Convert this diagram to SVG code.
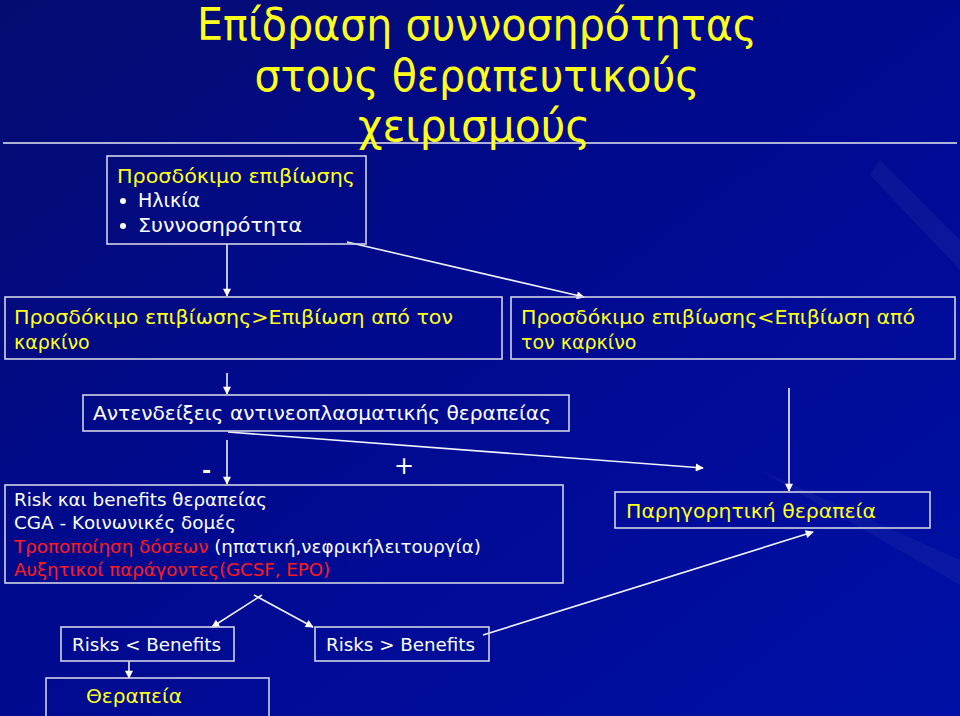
<svg xmlns="http://www.w3.org/2000/svg" width="960" height="716" viewBox="0 0 960 716">
<defs>
<linearGradient id="bg" x1="0" y1="0" x2="1" y2="1">
<stop offset="0" stop-color="#050c70"/>
<stop offset="0.45" stop-color="#000a8e"/>
<stop offset="1" stop-color="#0010a6"/>
</linearGradient>
<marker id="ah" viewBox="0 0 10 10" refX="9" refY="5" markerWidth="9" markerHeight="8" markerUnits="userSpaceOnUse" orient="auto">
<path d="M0,0 L10,5 L0,10 z" fill="#ffffff"/>
</marker>
<style>
.box{fill:none;stroke:#d2d2e6;stroke-width:1.6}
.con{stroke:#f0f0ff;stroke-width:1.6;fill:none;marker-end:url(#ah)}
.t{font-family:"DejaVu Sans","Liberation Sans",sans-serif}
.y{fill:#ffff1a}
.w{fill:#ffffff}
.r{fill:#ff1a1a}
.ttl{font-family:"DejaVu Sans","Liberation Sans",sans-serif;font-stretch:condensed;font-size:44px;fill:#ffff1a;text-anchor:middle}
</style>
</defs>
<rect width="960" height="716" fill="url(#bg)"/>
<g opacity="0.04" fill="#ffffff">
<polygon points="760,470 960,560 960,585 780,482"/>
<polygon points="880,160 960,240 960,270 870,175"/>
</g>
<line x1="3" y1="143" x2="957" y2="143" stroke="#e8e8f4" stroke-width="1.6"/>

<g id="title">
<text class="ttl" x="477" y="40" textLength="560" lengthAdjust="spacingAndGlyphs">Επίδραση συννοσηρότητας</text>
<text class="ttl" x="477" y="91" textLength="445" lengthAdjust="spacingAndGlyphs">στους θεραπευτικούς</text>
<text class="ttl" x="474" y="141" textLength="232" lengthAdjust="spacingAndGlyphs">χειρισμούς</text>
</g>

<g id="connectors">
<line class="con" x1="227" y1="244" x2="227" y2="296"/>
<line class="con" x1="347" y1="242" x2="584" y2="297"/>
<line class="con" x1="227" y1="373" x2="227" y2="394"/>
<line class="con" x1="227" y1="440" x2="227" y2="484"/>
<line class="con" x1="228" y1="432" x2="703" y2="468"/>
<line class="con" x1="789" y1="388" x2="789" y2="491"/>
<line class="con" x1="262" y1="595" x2="212" y2="627"/>
<line class="con" x1="254" y1="595" x2="313" y2="627"/>
<line class="con" x1="483" y1="635" x2="813" y2="532"/>
<line class="con" x1="129" y1="661" x2="129" y2="678"/>
</g>

<g id="n1">
<rect class="box" x="107" y="156" width="259" height="88"/>
<text class="t y" x="117" y="183" font-size="19" textLength="238" lengthAdjust="spacingAndGlyphs">Προσδόκιμο επιβίωσης</text>
<circle cx="123" cy="201" r="3" fill="#ffffff"/>
<text class="t w" x="138" y="207" font-size="19">Ηλικία</text>
<circle cx="123" cy="226" r="3" fill="#ffffff"/>
<text class="t w" x="138" y="232" font-size="19" textLength="164" lengthAdjust="spacingAndGlyphs">Συννοσηρότητα</text>
</g>

<g id="n2">
<rect class="box" x="5" y="297" width="497" height="62"/>
<text class="t y" x="14" y="324" font-size="19" textLength="439" lengthAdjust="spacingAndGlyphs">Προσδόκιμο επιβίωσης&gt;Επιβίωση από τον</text>
<text class="t y" x="14" y="349" font-size="19">καρκίνο</text>
</g>

<g id="n3">
<rect class="box" x="511" y="297" width="444" height="62"/>
<text class="t y" x="521" y="324" font-size="19" textLength="394" lengthAdjust="spacingAndGlyphs">Προσδόκιμο επιβίωσης&lt;Επιβίωση από</text>
<text class="t y" x="521" y="349" font-size="19">τον καρκίνο</text>
</g>

<g id="n4">
<rect class="box" x="83" y="395" width="486" height="36"/>
<text class="t w" x="93" y="420" font-size="19" textLength="458" lengthAdjust="spacingAndGlyphs">Αντενδείξεις αντινεοπλασματικής θεραπείας</text>
</g>

<g id="labels">
<text class="t w" x="202" y="478" font-size="22" font-weight="bold">-</text>
<text class="t w" x="404" y="474" font-size="24" text-anchor="middle">+</text>
</g>

<g id="n5">
<rect class="box" x="5" y="485" width="558" height="98"/>
<text class="t w" x="14" y="506" font-size="17" textLength="253" lengthAdjust="spacingAndGlyphs">Risk και benefits θεραπείας</text>
<text class="t w" x="14" y="529" font-size="17" textLength="222" lengthAdjust="spacingAndGlyphs">CGA - Κοινωνικές δομές</text>
<text class="t w" x="14" y="553" font-size="17" textLength="467" lengthAdjust="spacingAndGlyphs"><tspan class="r">Τροποποίηση δόσεων</tspan> (ηπατική,νεφρικήλειτουργία)</text>
<text class="t r" x="14" y="576" font-size="17" textLength="316" lengthAdjust="spacingAndGlyphs">Αυξητικοί παράγοντες(GCSF, EPO)</text>
</g>

<g id="n6">
<rect class="box" x="615" y="492" width="315" height="36"/>
<text class="t y" x="626" y="518" font-size="19" textLength="250" lengthAdjust="spacingAndGlyphs">Παρηγορητική θεραπεία</text>
</g>

<g id="n7">
<rect class="box" x="61" y="627" width="173" height="34"/>
<text class="t w" x="72" y="651" font-size="17" textLength="149" lengthAdjust="spacingAndGlyphs">Risks &lt; Benefits</text>
</g>

<g id="n8">
<rect class="box" x="315" y="627" width="174" height="34"/>
<text class="t w" x="326" y="651" font-size="17" textLength="149" lengthAdjust="spacingAndGlyphs">Risks &gt; Benefits</text>
</g>

<g id="n9">
<rect class="box" x="46" y="678" width="223" height="45"/>
<text class="t y" x="86" y="703" font-size="19" textLength="96" lengthAdjust="spacingAndGlyphs">Θεραπεία</text>
</g>
</svg>
